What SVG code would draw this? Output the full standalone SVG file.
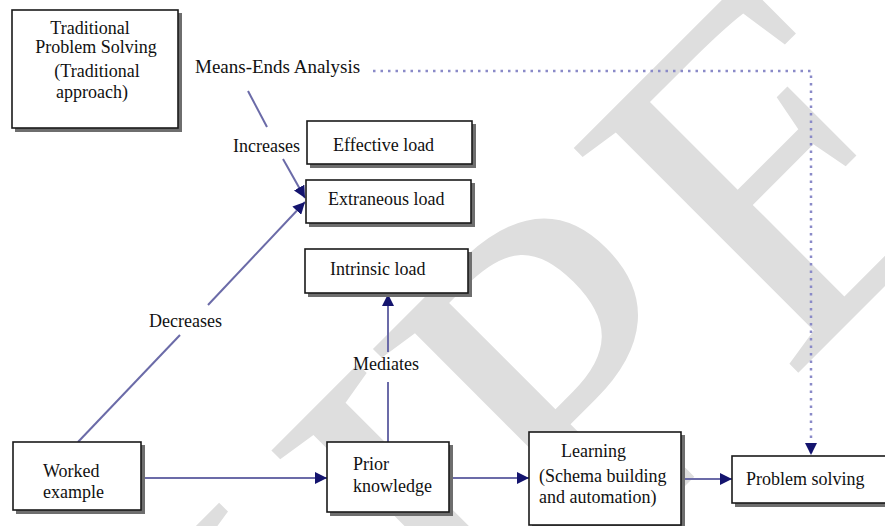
<svg xmlns="http://www.w3.org/2000/svg" width="885" height="526" viewBox="0 0 885 526">
<style>
.bx{fill:#fff;stroke:#1a1a1a;stroke-width:1.6}
.sh{fill:#6e6e6e}
.t{font-family:"Liberation Serif","Times New Roman",serif;font-size:18px;fill:#111}
.ln{stroke:#6b6ba8;stroke-width:2;fill:none}
.dt{stroke:#8a8ac8;stroke-width:2.5;fill:none;stroke-dasharray:2.5 5}
.wm{font-family:"Liberation Serif","Times New Roman",serif;font-size:485px;fill:#dedede}
</style>
<defs>
<marker id="ah" markerUnits="userSpaceOnUse" markerWidth="12" markerHeight="12" refX="12" refY="6" orient="auto">
<path d="M0,0 L12,6 L0,12 z" fill="#14146e"/>
</marker>
</defs>
<rect width="885" height="526" fill="#fff"/>
<g id="watermark">
<text class="wm" transform="rotate(-45)" x="-345 -183 3 287" y="828">IJPE</text>
</g>
<g id="connectors">
<line class="ln" x1="141" y1="478" x2="327" y2="478" marker-end="url(#ah)"/>
<line class="ln" x1="449" y1="478" x2="529" y2="478" marker-end="url(#ah)"/>
<line class="ln" x1="681" y1="479" x2="732" y2="479" marker-end="url(#ah)"/>
<line class="ln" x1="388" y1="442" x2="388" y2="382"/>
<line class="ln" x1="388" y1="352" x2="388" y2="294" marker-end="url(#ah)"/>
<line class="ln" x1="78" y1="442" x2="180" y2="335"/>
<line class="ln" x1="208" y1="305" x2="305" y2="202" marker-end="url(#ah)"/>
<line class="ln" x1="248" y1="91" x2="267" y2="127"/>
<line class="ln" x1="283" y1="159" x2="305" y2="198" marker-end="url(#ah)"/>
<path class="dt" d="M373,71 H811 V455" marker-end="url(#ah)"/>
</g>
<g id="labels">
<text class="t" x="195" y="73" style="font-size:19px">Means-Ends Analysis</text>
<text class="t" x="233" y="152">Increases</text>
<text class="t" x="149" y="327">Decreases</text>
<text class="t" x="353" y="370">Mediates</text>
</g>
<g id="traditional">
<rect class="sh" x="15" y="13" width="167" height="119"/>
<rect class="bx" x="12" y="10" width="166" height="118"/>
<text class="t" text-anchor="middle"><tspan x="90" y="34">Traditional</tspan><tspan x="96" y="53">Problem Solving</tspan><tspan x="97" y="77">(Traditional</tspan><tspan x="92" y="98">approach)</tspan></text>
</g>
<g id="effective">
<rect class="sh" x="310" y="124" width="166" height="44"/>
<rect class="bx" x="307" y="121" width="165" height="43"/>
<text class="t" x="333" y="151">Effective load</text>
</g>
<g id="extraneous">
<rect class="sh" x="309" y="183" width="166" height="44"/>
<rect class="bx" x="306" y="180" width="165" height="43"/>
<text class="t" x="328" y="205">Extraneous load</text>
</g>
<g id="intrinsic">
<rect class="sh" x="308" y="252" width="164" height="45"/>
<rect class="bx" x="305" y="249" width="163" height="44"/>
<text class="t" x="330" y="275">Intrinsic load</text>
</g>
<g id="worked">
<rect class="sh" x="16" y="445" width="129" height="69"/>
<rect class="bx" x="13" y="442" width="128" height="68"/>
<text class="t"><tspan x="43" y="477">Worked</tspan><tspan x="43" y="498">example</tspan></text>
</g>
<g id="prior">
<rect class="sh" x="330" y="445" width="123" height="71"/>
<rect class="bx" x="327" y="442" width="122" height="70"/>
<text class="t"><tspan x="353" y="470">Prior</tspan><tspan x="353" y="492">knowledge</tspan></text>
</g>
<g id="learning">
<rect class="sh" x="532" y="435" width="153" height="94"/>
<rect class="bx" x="529" y="432" width="152" height="93"/>
<text class="t"><tspan x="561" y="457">Learning</tspan><tspan x="539" y="482">(Schema building</tspan><tspan x="539" y="503">and automation)</tspan></text>
</g>
<g id="problem">
<rect class="sh" x="735" y="459" width="160" height="48"/>
<rect class="bx" x="732" y="456" width="160" height="47"/>
<text class="t" x="746" y="485">Problem solving</text>
</g>
</svg>
